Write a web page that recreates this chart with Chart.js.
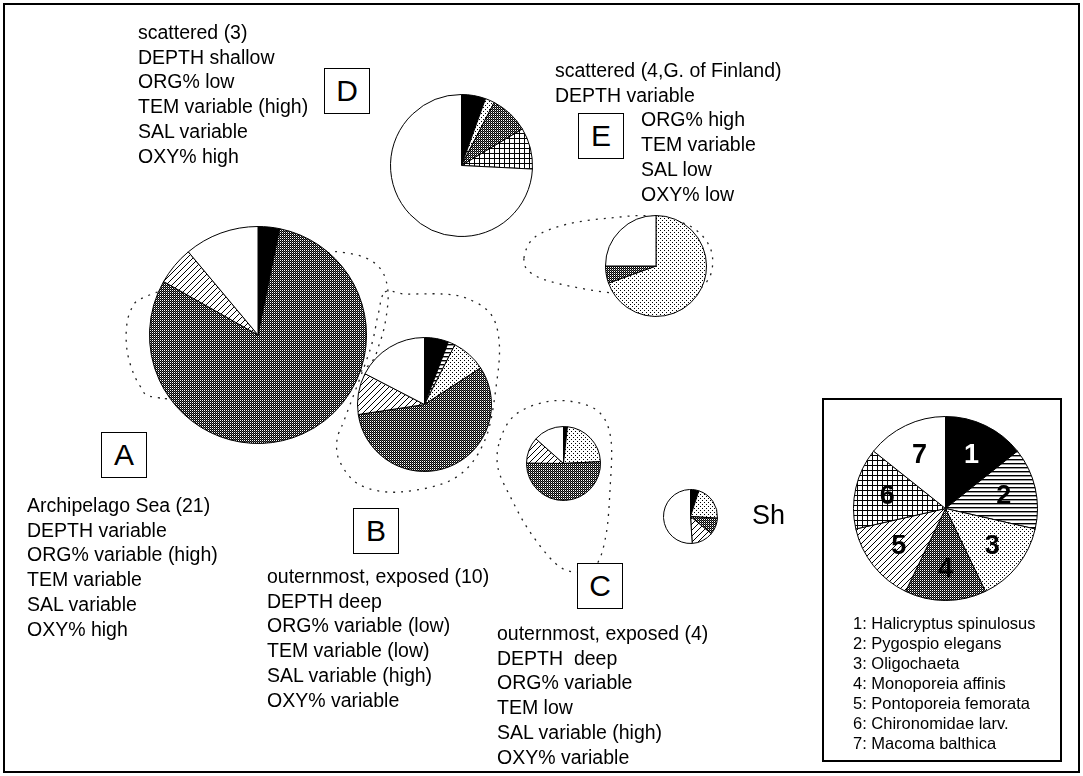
<!DOCTYPE html>
<html>
<head>
<meta charset="utf-8">
<script src="https://cdn.jsdelivr.net/npm/chart.js@4.4.1/dist/chart.umd.min.js"></script>
<style>
  body { margin: 0; background: #fff; }
  #page { position: relative; width: 1083px; height: 776px; overflow: hidden;
          font-family: Arial, "Liberation Sans", sans-serif; color: #000; }
  #frame { position: absolute; left: 3px; top: 3px; width: 1073px; height: 766px; border: 2px solid #000; }
  #hulls { position: absolute; left: 0; top: 0; }
  .pie { position: absolute; }
  .block { position: absolute; font-size: 19.5px; line-height: 24.7px; white-space: pre; }
  .tag { position: absolute; width: 44px; height: 44px; border: 1.5px solid #000; background: #fff;
         font-size: 30px; line-height: 44px; text-align: center; }
  #sh { position: absolute; font-size: 27px; }
  #legendBox { position: absolute; left: 822px; top: 398px; width: 236px; height: 360px; border: 2px solid #000; }
  #legendText { position: absolute; left: 853px; top: 613px; font-size: 16.5px; line-height: 20px; white-space: pre; }
</style>
</head>
<body>
<div id="page">
  <div id="frame"></div>
  <canvas id="hulls" width="1083" height="776"></canvas>
  <div id="legendBox"></div>
</div>
<script>
// species in legend order
const species = ["Halicryptus spinulosus", "Pygospio elegans", "Oligochaeta", "Monoporeia affinis",
                 "Pontoporeia femorata", "Chironomidae larv.", "Macoma balthica"];

// share (%) of each species per site group, same order as species
const shareA  = [3.2, 0, 0, 80.0, 5.7, 0, 11.1];
const shareB  = [5.8, 1.7, 8.3, 56.8, 10.0, 0, 17.4];
const shareC  = [1.7, 0, 22.5, 51.0, 11.4, 0, 13.4];
const shareD  = [5.5, 0, 2.1, 8.8, 0, 9.4, 74.2];
const shareE  = [0, 0, 69.5, 5.5, 0, 0, 25.0];
const shareSh = [5.0, 0, 21.0, 10.0, 13.0, 0, 51.0];
const legendShare = [1, 1, 1, 1, 1, 1, 1];

// group descriptions
const textA = ["Archipelago Sea (21)", "DEPTH variable", "ORG% variable (high)", "TEM variable", "SAL variable", "OXY% high"];
const textB = ["outernmost, exposed (10)", "DEPTH deep", "ORG% variable (low)", "TEM variable (low)", "SAL variable (high)", "OXY% variable"];
const textC = ["outernmost, exposed (4)", "DEPTH  deep", "ORG% variable", "TEM low", "SAL variable (high)", "OXY% variable"];
const textD = ["scattered (3)", "DEPTH shallow", "ORG% low", "TEM variable (high)", "SAL variable", "OXY% high"];
const textE = ["scattered (4,G. of Finland)", "DEPTH variable", "ORG% high", "TEM variable", "SAL low", "OXY% low"];

const page = document.getElementById("page");

// fill patterns, one per species
function tile(w, h, paint) {
  const c = document.createElement("canvas");
  c.width = w; c.height = h;
  const g = c.getContext("2d");
  g.fillStyle = "#fff";
  g.fillRect(0, 0, w, h);
  g.fillStyle = "#000";
  paint(g);
  return g.createPattern(c, "repeat");
}
const fills = [
  "#000",
  tile(1, 4, g => g.fillRect(0, 0, 1, 1.4)),
  tile(4, 4, g => { g.fillRect(0, 0, 1, 1); g.fillRect(2, 2, 1, 1); }),
  tile(2, 2, g => { g.fillRect(0, 0, 1, 1); g.fillRect(1, 1, 1, 1); g.fillStyle = "#555"; g.fillRect(1, 0, 1, 1); }),
  tile(6, 6, g => { for (let i = 0; i < 6; i++) { g.fillRect(i, 5 - i, 1, 1); g.fillRect(i, (11 - i) % 6, 1, 1); } }),
  tile(5, 5, g => { g.fillRect(0, 0, 5, 1); g.fillRect(0, 0, 1, 5); }),
  "#fff",
];

// dotted hulls around the site groups
const hc = document.getElementById("hulls").getContext("2d");
function hull(pts) {
  hc.beginPath();
  const n = pts.length;
  for (let i = 0; i < n; i++) {
    const p0 = pts[(i - 1 + n) % n], p1 = pts[i], p2 = pts[(i + 1) % n], p3 = pts[(i + 2) % n];
    if (i === 0) hc.moveTo(p1[0], p1[1]);
    hc.bezierCurveTo(p1[0] + (p2[0] - p0[0]) / 6, p1[1] + (p2[1] - p0[1]) / 6,
                     p2[0] - (p3[0] - p1[0]) / 6, p2[1] - (p3[1] - p1[1]) / 6, p2[0], p2[1]);
  }
  hc.stroke();
}
hc.setLineDash([2, 6]);
hc.lineWidth = 1.3;
hc.strokeStyle = "#222";
hull([[160, 398], [140, 386], [127, 350], [130, 312], [152, 294], [240, 270], [322, 254], [340, 252],
      [366, 258], [382, 271], [388, 292], [386, 318], [380, 342], [368, 366], [330, 385], [250, 400]]);
hull([[385, 292], [405, 294], [442, 294], [466, 298], [490, 313], [499, 340], [497, 380], [485, 440],
      [455, 478], [400, 492], [360, 485], [340, 462], [337, 440], [345, 418], [370, 350], [378, 315]]);
hull([[500, 440], [515, 415], [545, 402], [575, 402], [600, 413], [611, 440], [610, 490], [606, 535],
      [596, 565], [575, 572], [555, 563], [530, 532], [512, 500], [498, 468]]);
hull([[524, 258], [535, 237], [568, 224], [610, 218], [650, 216], [690, 226], [711, 250], [708, 280],
      [680, 296], [620, 294], [560, 284], [531, 273]]);

// one pie chart per group
function pie(id, data, cx, cy, r, numbered) {
  const side = Math.ceil(2 * r + 4);
  const cv = document.createElement("canvas");
  cv.id = id; cv.className = "pie";
  cv.width = side; cv.height = side;
  cv.style.left = (cx - side / 2) + "px";
  cv.style.top = (cy - side / 2) + "px";
  page.appendChild(cv);
  const labels = {
    id: "sliceNumbers",
    afterDatasetsDraw(chart) {
      if (!numbered) return;
      const ctx = chart.ctx;
      ctx.save();
      ctx.font = "bold 27px Arial, 'Liberation Sans', sans-serif";
      ctx.textAlign = "center";
      ctx.textBaseline = "middle";
      chart.getDatasetMeta(0).data.forEach((arc, i) => {
        const a = (arc.startAngle + arc.endAngle) / 2;
        const d = arc.outerRadius * 0.65;
        ctx.fillStyle = i === 0 ? "#fff" : "#000";
        ctx.fillText(String(i + 1), arc.x + Math.cos(a) * d, arc.y + Math.sin(a) * d + 1);
      });
      ctx.restore();
    },
  };
  return new Chart(cv, {
    type: "pie",
    plugins: [labels],
    data: {
      labels: species,
      datasets: [{ data: data, backgroundColor: fills, borderColor: "#000", borderWidth: 1, hoverOffset: 0 }],
    },
    options: {
      responsive: false,
      animation: false,
      events: [],
      layout: { padding: 1 },
      plugins: { legend: { display: false }, tooltip: { enabled: false } },
    },
  });
}

pie("pieA", shareA, 258, 335, 108);
pie("pieB", shareB, 424.5, 404.5, 66.5);
pie("pieC", shareC, 563.5, 463.5, 36.5);
pie("pieSh", shareSh, 690, 516, 26.5);
pie("pieD", shareD, 461.5, 165, 70.5);
pie("pieE", shareE, 655.5, 266, 50);
pie("pieKey", legendShare, 945, 508.5, 91.5, true);

// text blocks and group tags
function block(lines, x, y) {
  const d = document.createElement("div");
  d.className = "block";
  d.style.left = x + "px"; d.style.top = y + "px";
  d.textContent = lines.join("\n");
  page.appendChild(d);
}
function tag(letter, x, y) {
  const d = document.createElement("div");
  d.className = "tag";
  d.style.left = x + "px"; d.style.top = y + "px";
  d.textContent = letter;
  page.appendChild(d);
}
block(textD, 138, 20);
// the E tag sits under the first two lines, the rest is set to its right
block(textE.slice(0, 2), 555, 58);
block(textE.slice(2), 641, 107.4);
block(textA, 27, 493);
block(textB, 267, 564);
block(textC, 497, 621);
tag("D", 324, 68);
tag("E", 578, 113);
tag("A", 101, 432);
tag("B", 353, 508);
tag("C", 577, 563);

const sh = document.createElement("div");
sh.id = "sh"; sh.textContent = "Sh";
sh.style.left = "752px"; sh.style.top = "500px";
page.appendChild(sh);

const lt = document.createElement("div");
lt.id = "legendText";
lt.textContent = species.map((s, i) => (i + 1) + ": " + s).join("\n");
page.appendChild(lt);
</script>
</body>
</html>
